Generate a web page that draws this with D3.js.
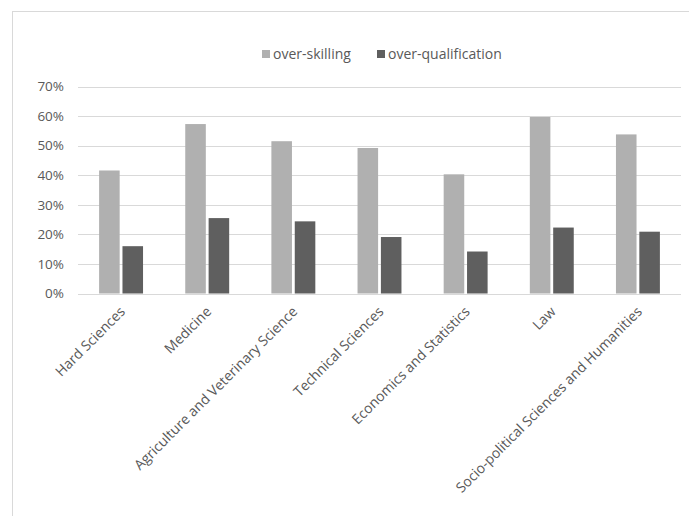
<!DOCTYPE html>
<html lang="en">
<head>
<meta charset="utf-8">
<title>Over-skilling and over-qualification by field</title>
<script src="https://cdnjs.cloudflare.com/ajax/libs/d3/7.8.5/d3.min.js"></script>
<style>
body { margin: 0; background: #fff; }
text { font-family: "Open Sans", sans-serif; fill: #595959; }
.grid line { stroke: #d9d9d9; stroke-width: 1; }
</style>
</head>
<body>
<div id="chart"></div>
<script>

const w = 689;
const h = 516;

// fields of study
const categories = [
   "Hard Sciences",
   "Medicine",
   "Agriculture and Veterinary Science",
   "Technical Sciences",
   "Economics and Statistics",
   "Law",
   "Socio-political Sciences and Humanities"
];
const series = ["over-skilling", "over-qualification"];
const overSkilling = [0.416, 0.573, 0.515, 0.492, 0.403, 0.597, 0.538];
const overQualification = [0.160, 0.255, 0.244, 0.191, 0.142, 0.223, 0.209];
const yTicks = [0, 0.1, 0.2, 0.3, 0.4, 0.5, 0.6, 0.7];
const colors = ["#b0b0b0", "#5f5f5f"];

const rows = categories.map((c, i) => ({
   category: c,
   values: [overSkilling[i], overQualification[i]]
}));

const svg = d3.select("#chart")
   .append("svg")
   .attr("width", w)
   .attr("height", h);

// chart frame
svg.append("rect")
   .attr("x", 12.5)
   .attr("y", 11.5)
   .attr("width", w)
   .attr("height", h)
   .attr("fill", "none")
   .attr("stroke", "#d9d9d9");

const xScale = d3.scaleBand()
   .domain(categories)
   .range([78, 681]);

const step = xScale.step();
const x1 = d3.scaleBand()
   .domain(series)
   .range([step * 0.245, step * 0.755])
   .paddingInner(0.12);

const yScale = d3.scaleLinear()
   .domain([0, 0.7])
   .range([293.5, 86.5]);

// gridlines
const grid = svg.append("g").attr("class", "grid");
grid.selectAll("line")
   .data(yTicks)
   .enter()
   .append("line")
   .attr("x1", 78)
   .attr("x2", 681)
   .attr("y1", d => Math.round(yScale(d)) + 0.5)
   .attr("y2", d => Math.round(yScale(d)) + 0.5);

// y labels
const yAxis = d3.axisLeft(yScale)
   .tickValues(yTicks)
   .tickFormat(d3.format(".0%"))
   .tickSize(0)
   .tickPadding(14);
svg.append("g")
   .attr("transform", "translate(78,0)")
   .call(yAxis)
   .call(g => g.select(".domain").remove())
   .selectAll("text")
   .style("font-size", "13.5px")
   .attr("fill", "#595959");

// bars
const groups = svg.selectAll(".group")
   .data(rows)
   .enter()
   .append("g")
   .attr("class", "group")
   .attr("transform", d => "translate(" + xScale(d.category) + ",0)");

groups.selectAll("rect")
   .data(d => d.values.map((v, j) => ({ key: series[j], value: v, j: j })))
   .enter()
   .append("rect")
   .attr("x", d => x1(d.key))
   .attr("width", x1.bandwidth())
   .attr("y", d => yScale(d.value))
   .attr("height", d => yScale(0) - yScale(d.value))
   .attr("fill", d => colors[d.j]);

// x labels, rotated
const xAxis = d3.axisBottom(xScale)
   .tickSize(0)
   .tickPadding(0);
svg.append("g")
   .attr("transform", "translate(0,293.5)")
   .call(xAxis)
   .call(g => g.select(".domain").remove())
   .selectAll("text")
   .style("font-size", "14px")
   .attr("fill", "#595959")
   .attr("text-anchor", "end")
   .attr("dy", "0")
   .attr("transform", "translate(5,19) rotate(-45)");

// legend
const legend = svg.append("g").attr("class", "legend");
const legendX = [262, 377];
legend.selectAll("rect")
   .data(series)
   .enter()
   .append("rect")
   .attr("x", (d, i) => legendX[i])
   .attr("y", 50)
   .attr("width", 8)
   .attr("height", 8)
   .attr("fill", (d, i) => colors[i]);
legend.selectAll("text")
   .data(series)
   .enter()
   .append("text")
   .attr("x", (d, i) => legendX[i] + 11)
   .attr("y", 59)
   .style("font-size", "14px")
   .text(d => d);

</script>
</body>
</html>
